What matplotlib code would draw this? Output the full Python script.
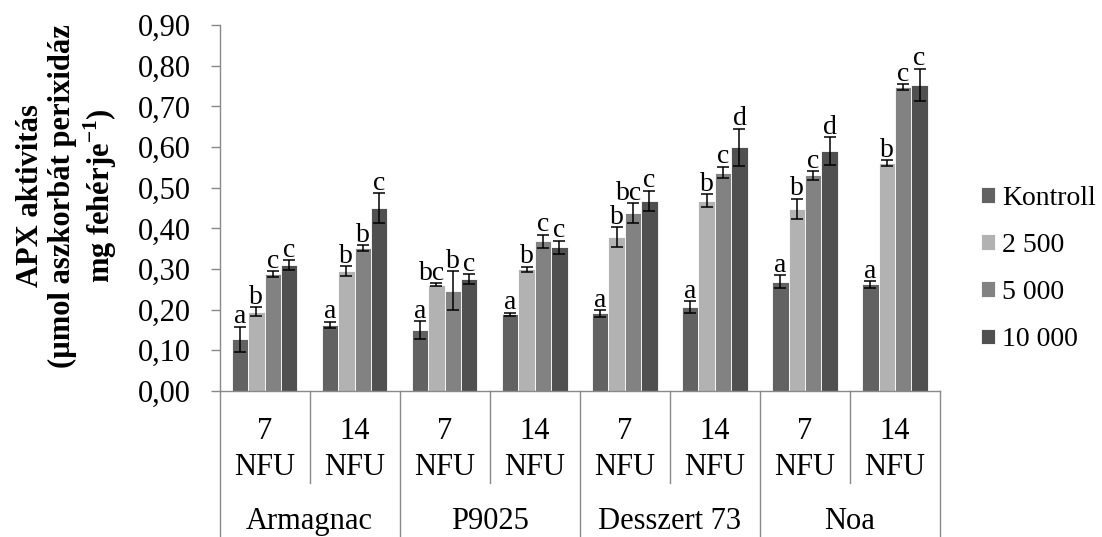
import numpy as np
import matplotlib
matplotlib.use('Agg')
import matplotlib.pyplot as plt

plt.rcParams['font.family'] = 'Liberation Serif'
plt.rcParams['mathtext.fontset'] = 'custom'
plt.rcParams['mathtext.rm'] = 'Liberation Serif'
plt.rcParams['mathtext.bf'] = 'Liberation Serif:bold'

# data
cultivars = ['Armagnac', 'P9025', 'Desszert 73', 'Noa']
days = ['7\nNFU', '14\nNFU'] * 4
series = ['Kontroll', '2 500', '5 000', '10 000']

kontroll = [0.127, 0.162, 0.150, 0.189, 0.191, 0.207, 0.269, 0.262]
c2500 = [0.195, 0.295, 0.261, 0.299, 0.379, 0.468, 0.448, 0.561]
c5000 = [0.288, 0.351, 0.246, 0.368, 0.438, 0.537, 0.530, 0.747]
c10000 = [0.309, 0.449, 0.275, 0.353, 0.468, 0.599, 0.590, 0.752]

err_kontroll = [0.031, 0.008, 0.022, 0.004, 0.008, 0.014, 0.016, 0.008]
err_2500 = [0.011, 0.012, 0.004, 0.006, 0.024, 0.016, 0.025, 0.007]
err_5000 = [0.007, 0.007, 0.048, 0.016, 0.024, 0.014, 0.011, 0.007]
err_10000 = [0.012, 0.037, 0.012, 0.016, 0.025, 0.046, 0.034, 0.040]

let_kontroll = ['a', 'a', 'a', 'a', 'a', 'a', 'a', 'a']
let_2500 = ['b', 'b', 'bc', 'b', 'b', 'b', 'b', 'b']
let_5000 = ['c', 'b', 'b', 'c', 'bc', 'c', 'c', 'c']
let_10000 = ['c', 'c', 'c', 'c', 'c', 'd', 'd', 'c']

values = [kontroll, c2500, c5000, c10000]
errors = [err_kontroll, err_2500, err_5000, err_10000]
letters = [let_kontroll, let_2500, let_5000, let_10000]
colors = ['#626262', '#b2b2b2', '#828282', '#505050']

fig = plt.figure(figsize=(11.02, 5.37), dpi=100)
ax = fig.add_axes([0.1992, 0.2719, 0.853 - 0.1992, 0.9534 - 0.2719])

x = np.arange(len(days))
w = 0.182
handles = []
for i in range(4):
    pos = x + (i - 1.5) * w
    b = ax.bar(pos, values[i], w, color=colors[i], edgecolor='white', linewidth=0.6, zorder=2)
    handles.append(b)
    ax.errorbar(pos, values[i], yerr=errors[i], fmt='none', ecolor='black',
                elinewidth=1.1, capsize=4.5, capthick=1.1, zorder=3)
    for j in range(len(x)):
        lab = letters[i][j]
        # two-letter labels nudged left a little so they don't run into the next one
        dx = -3 if len(lab) > 1 else 0
        ax.annotate(lab, (pos[j], values[i][j] + errors[i][j]),
                    xytext=(dx, 2.5), textcoords='offset points',
                    ha='center', va='baseline', fontsize=20)

ax.set_ylim(0, 0.9)
ax.set_xlim(-0.5, 7.5)
yt = np.arange(0, 0.91, 0.1)
ax.set_yticks(yt)
ax.set_yticklabels([('%.2f' % v).replace('.', ',') for v in yt])
ax.tick_params(axis='y', direction='out', length=6.5, width=1, color='#898989',
               labelsize=22, pad=14)

ax.set_xticks(x)
ax.set_xticklabels(days, linespacing=1.3)
ax.tick_params(axis='x', length=0, labelsize=22, pad=19)

for s in ['top', 'right']:
    ax.spines[s].set_visible(False)
for s in ['left', 'bottom']:
    ax.spines[s].set_color('#898989')
    ax.spines[s].set_linewidth(1)

# multi-level category lines under the axis
tr = ax.get_xaxis_transform()
for xb in [-0.5, 1.5, 3.5, 5.5, 7.5]:
    ax.plot([xb, xb], [0, -0.45], color='#898989', lw=1, transform=tr, clip_on=False)
for xb in [0.5, 2.5, 4.5, 6.5]:
    ax.plot([xb, xb], [0, -0.251], color='#898989', lw=1, transform=tr, clip_on=False)

for k, name in enumerate(cultivars):
    ax.text(2 * k + 0.5, -0.378, name, transform=tr, ha='center', va='baseline', fontsize=22)

fig.text(0.061, 0.635,
         'APX aktivitás\n(µmol aszkorbát perixidáz\nmg fehérje$^{\\mathbf{-1}}$)',
         rotation=90, ha='center', va='center', multialignment='center',
         fontsize=22, fontweight='bold', linespacing=1.15)

fig.legend([h[0] for h in handles], series, loc='center left',
           bbox_to_anchor=(0.878, 0.499), frameon=False, fontsize=20,
           handlelength=0.5, handleheight=0.5, handletextpad=0.25,
           labelspacing=0.8, borderpad=0)

fig.savefig('out.png', dpi=100)
